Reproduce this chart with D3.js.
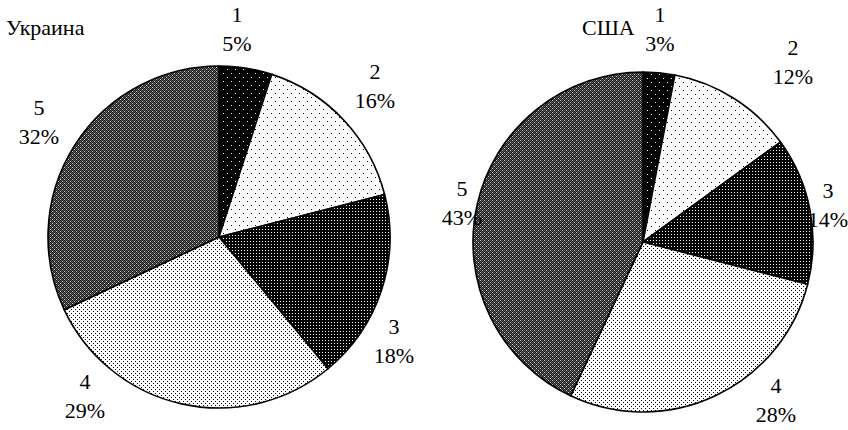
<!DOCTYPE html>
<html>
<head>
<meta charset="utf-8">
<script src="https://cdn.jsdelivr.net/npm/d3@7/dist/d3.min.js"></script>
<style>
  html, body { margin: 0; padding: 0; background: #fff; }
  svg { display: block; }
  text { font-family: "Liberation Serif", "Times New Roman", serif; font-size: 22px; fill: #000; }
</style>
</head>
<body>
<svg id="chart" width="848" height="430"></svg>
<script>
// Structure categories (1..5) and their shares, %
const categories = ["1", "2", "3", "4", "5"];
const ukraineShares = [5, 16, 18, 29, 32];
const usaShares = [3, 12, 14, 28, 43];
const countryNames = ["Украина", "США"];

// Hand-placed label blocks, relative to each pie centre
const ukraineLabelOffsets = [[18, -208], [156, -151], [175, 104], [-134, 159], [-180, -115]];
const usaLabelOffsets = [[17, -213], [150, -180], [185, -37], [133, 158], [-181, -39]];

const svg = d3.select("#chart");
const defs = svg.append("defs");

// Fill patterns for the five categories
function dotPattern(id, size, bg, fg, dots, dotSize) {
  const p = defs.append("pattern")
    .attr("id", id).attr("patternUnits", "userSpaceOnUse")
    .attr("width", size).attr("height", size);
  p.append("rect").attr("width", size).attr("height", size).attr("fill", bg);
  dots.forEach(([x, y]) => p.append("rect")
    .attr("x", x).attr("y", y).attr("width", dotSize).attr("height", dotSize)
    .attr("fill", fg).attr("shape-rendering", "crispEdges"));
}
dotPattern("pat1", 8, "#000", "#fff", [[0, 0], [4, 4]], 1.2);
dotPattern("pat2", 8, "#fff", "#000", [[0, 0], [4, 4]], 1.2);
dotPattern("pat3", 3, "#000", "#fff", [[1, 1]], 1);
dotPattern("pat4", 4, "#fff", "#000", [[0, 0], [2, 2]], 1.1);

// Dark cross-hatched grey for category 5
(function () {
  const p = defs.append("pattern")
    .attr("id", "pat5").attr("patternUnits", "userSpaceOnUse")
    .attr("width", 4).attr("height", 4);
  p.append("rect").attr("width", 4).attr("height", 4).attr("fill", "#5a5a5a");
  const px = (x, y, c) => p.append("rect").attr("x", x).attr("y", y)
    .attr("width", 1).attr("height", 1).attr("fill", c).attr("shape-rendering", "crispEdges");
  [[0, 0], [1, 1], [2, 0], [0, 2], [2, 2], [3, 1], [1, 3], [3, 3]].forEach(([x, y]) => px(x, y, "#1a1a1a"));
  px(1, 2, "#d8d8d8");
  px(3, 0, "#d8d8d8");
})();
const fillScale = d3.scaleOrdinal()
  .domain(categories)
  .range(["url(#pat1)", "url(#pat2)", "url(#pat3)", "url(#pat4)", "url(#pat5)"]);

const pie = d3.pie().sort(null).value(d => d.value);

function drawPie(cx, cy, r, shares, offsets, title, titlePos) {
  const g = svg.append("g").attr("transform", `translate(${cx},${cy})`);
  const data = categories.map((c, i) => ({ cat: c, value: shares[i] }));
  const arc = d3.arc().innerRadius(0).outerRadius(r);
  const arcs = pie(data);

  g.selectAll("path.slice").data(arcs).join("path")
    .attr("class", "slice")
    .attr("d", arc)
    .attr("fill", d => fillScale(d.data.cat))
    .attr("stroke", "#000")
    .attr("stroke-width", 1.6)
    .attr("stroke-linejoin", "round");

  const labels = g.selectAll("text.lab").data(arcs).join("text")
    .attr("class", "lab")
    .attr("text-anchor", "middle");
  labels.append("tspan")
    .attr("x", (d, i) => offsets[i][0])
    .attr("y", (d, i) => offsets[i][1] - 7)
    .text(d => d.data.cat);
  labels.append("tspan")
    .attr("x", (d, i) => offsets[i][0])
    .attr("y", (d, i) => offsets[i][1] + 22)
    .text(d => d.data.value + "%");

  svg.append("text").attr("x", titlePos[0]).attr("y", titlePos[1]).text(title);
}

drawPie(219, 237, 171, ukraineShares, ukraineLabelOffsets, countryNames[0], [6, 35]);
drawPie(643, 242, 170, usaShares, usaLabelOffsets, countryNames[1], [582, 35]);
</script>
</body>
</html>
